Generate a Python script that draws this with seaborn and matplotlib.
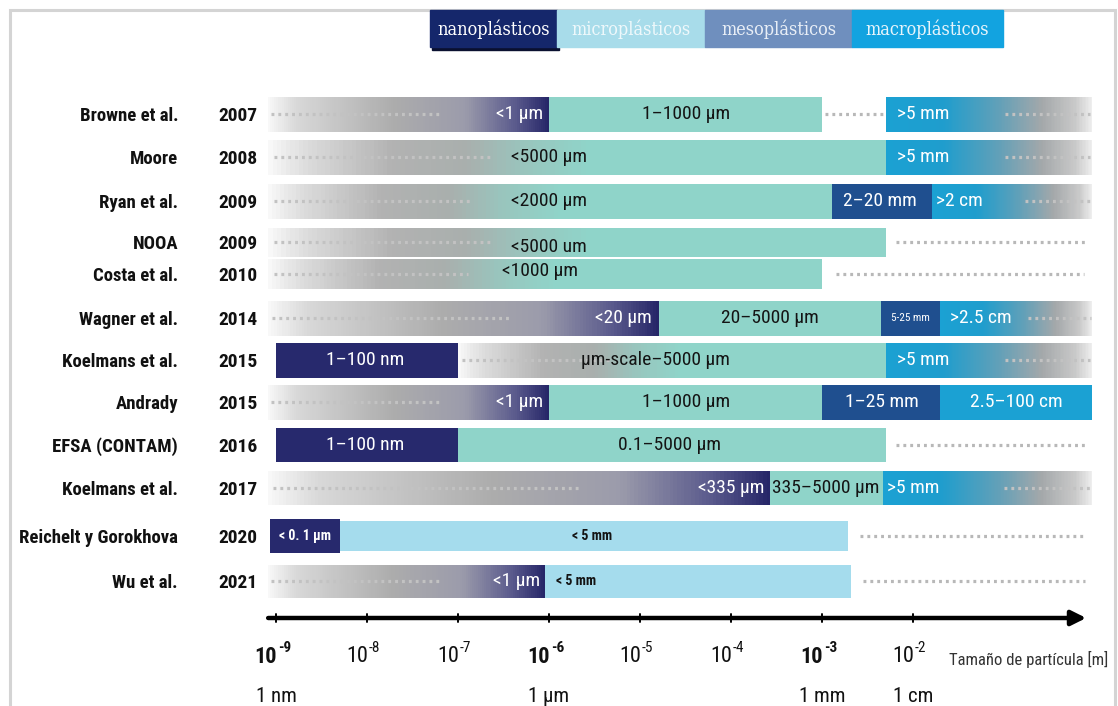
import numpy as np
import matplotlib
matplotlib.use("Agg")
import matplotlib.pyplot as plt
from matplotlib.colors import LinearSegmentedColormap
from matplotlib.patches import Rectangle
import seaborn as sns

# ------------------------------------------------------------------ data
authors = ["Browne et al.", "Moore", "Ryan et al.", "NOOA", "Costa et al.",
           "Wagner et al.", "Koelmans et al.", "Andrady", "EFSA (CONTAM)",
           "Koelmans et al.", "Reichelt y Gorokhova", "Wu et al."]
years = ["2007", "2008", "2009", "2009", "2010", "2014", "2015", "2015",
         "2016", "2017", "2020", "2021"]
legend_names = ["nanoplásticos", "microplásticos", "mesoplásticos", "macroplásticos"]
tick_exps = [-9, -8, -7, -6, -5, -4, -3, -2]
tick_bold = [-9, -6, -3]
unit_names = ["1 nm", "1 µm", "1 mm", "1 cm"]
unit_vals = [1e-9, 1e-6, 1e-3, 1e-2]
axis_title = "Tamaño de partícula [m]"

# size segments per study (metres)
seg_row = [0, 0, 0, 0,
           1, 1,
           2, 2, 2,
           3, 3,
           4, 4,
           5, 5, 5, 5,
           6, 6, 6,
           7, 7, 7, 7,
           8, 8, 8,
           9, 9, 9,
           10, 10, 10,
           11, 11, 11]
seg_start = [8.2e-10, 1e-6, 1e-3, 5e-3,
             8.2e-10, 5e-3,
             8.2e-10, 1.3e-3, 1.6e-2,
             8.2e-10, 5e-3,
             8.2e-10, 1e-3,
             8.2e-10, 1.6e-5, 4.5e-3, 2e-2,
             1e-9, 1e-7, 5e-3,
             8.2e-10, 1e-6, 1e-3, 2e-2,
             1e-9, 1e-7, 5e-3,
             8.2e-10, 2.7e-4, 4.7e-3,
             8.6e-10, 5e-9, 1.93e-3,
             8.2e-10, 9e-7, 2.1e-3]
seg_end = [1e-6, 1e-3, 5e-3, 0.93,
           5e-3, 0.93,
           1.3e-3, 1.6e-2, 0.93,
           5e-3, 0.93,
           1e-3, 0.93,
           1.6e-5, 4.5e-3, 2e-2, 0.93,
           1e-7, 5e-3, 0.93,
           1e-6, 1e-3, 2e-2, 0.93,
           1e-7, 5e-3, 0.93,
           2.7e-4, 4.7e-3, 0.93,
           5e-9, 1.93e-3, 0.93,
           9e-7, 2.1e-3, 0.93]
seg_kind = ["nf", "mi", "gap", "mf",
            "cf", "mf",
            "cf", "me", "mf",
            "cf", "gap",
            "cf", "gap",
            "nf", "mi", "me", "mf",
            "n", "cf", "mf",
            "nf", "mi", "me", "ma",
            "n", "mi", "gap",
            "nf", "mi", "mf",
            "n", "lb", "gap",
            "nf", "lb", "gap"]
seg_label = ["<1 µm", "1–1000 µm", "", ">5 mm",
             "<5000 µm", ">5 mm",
             "<2000 µm", "2–20 mm", ">2 cm",
             "<5000 um", "",
             "<1000 µm", "",
             "<20 µm", "20–5000 µm", "5-25 mm", ">2.5 cm",
             "1–100 nm", "µm-scale–5000 µm", ">5 mm",
             "<1 µm", "1–1000 µm", "1–25 mm", "2.5–100 cm",
             "1–100 nm", "0.1–5000 µm", "",
             "<335 µm", "335–5000 µm", ">5 mm",
             "< 0. 1 µm", "< 5 mm", "",
             "<1 µm", "< 5 mm", ""]

# ------------------------------------------------------------------ layout
W, H = 1118, 706
row_y = [114, 157, 201, 242, 274, 318, 360, 402, 445, 488, 536, 581]
row_h = [35, 35, 35, 29, 30, 35, 35, 35, 34, 34, 30, 33]
lbl_at = [8.6e-7, 3.2e-5, None, 6.7e-3,
          1.0e-6, 6.7e-3,
          1.0e-6, 4.3e-3, 1.8e-2,
          1.0e-6, None,
          8.0e-7, None,
          1.35e-5, 2.7e-4, 9.3e-3, 2.55e-2,
          9.5e-9, 1.46e-5, 6.7e-3,
          8.6e-7, 3.2e-5, 4.6e-3, 0.135,
          9.5e-9, 2.1e-5, None,
          2.3e-4, 1.1e-3, 5.2e-3,
          2.1e-9, 3.0e-6, None,
          8.0e-7, 1.2e-6, None]
lbl_ha = ["right", "center", "center", "left",
          "center", "left",
          "center", "center", "left",
          "center", "center",
          "center", "center",
          "right", "center", "center", "left",
          "center", "center", "left",
          "right", "center", "center", "center",
          "center", "center", "center",
          "right", "center", "left",
          "center", "center", "center",
          "right", "left", "center"]
lbl_dy = [0] * len(seg_row)
lbl_dy[9] = 5
lbl_dy[11] = -3

sns.set_theme(style="white")
SANS = ["Roboto Condensed", "PT Sans Narrow", "Liberation Sans", "DejaVu Sans"]
plt.rcParams["font.family"] = SANS
SERIF = ["DejaVu Serif"]

NAVY = "#27296d"
TEAL = "#8fd4c9"
MESO = "#1f4f8f"
MACRO = "#1ba1d3"
LBLUE = "#a5dced"
DOT = "#c2c2c2"

grad_nf = [(0.0, "#f8f8f8"), (0.1, "#d8d8d8"), (0.45, "#acacac"),
           (0.7, "#9b9bab"), (0.88, "#5b5b8d"), (1.0, "#262668")]
grad_cf = [(0.0, "#f8f8f8"), (0.06, "#dcdcdc"), (0.2, "#b2b2b2"),
           (0.32, "#a9afad"), (0.42, "#98c6be"), (0.52, TEAL), (1.0, TEAL)]
grad_mf = [(0.0, MACRO), (0.28, "#1f9dcd"), (0.55, "#62a0b8"),
           (0.76, "#a4a8aa"), (0.92, "#c9c9c9"), (1.0, "#eeeeee")]

fig = plt.figure(figsize=(W / 100, H / 100), dpi=100)
fig.patch.set_facecolor("white")

# bar axes: log size scale, y in row units of the picture
ax = fig.add_axes([0, 0, 1, 1])
ax.set_xscale("log")
ax.set_xlim(10 ** (-6 - 549 / 91), 10 ** (-6 + (W - 549) / 91))
ax.set_ylim(H, 0)
ax.axis("off")

# overlay axes for frame / legend / labels
lay = fig.add_axes([0, 0, 1, 1], zorder=3)
lay.set_xlim(0, W)
lay.set_ylim(H, 0)
lay.axis("off")
lay.patch.set_alpha(0)

# frame
lay.plot([10, 10, 1115, 1115], [H, 10, 10, H], color="#d4d4d4", lw=2.2,
         solid_joinstyle="miter")

# legend boxes
leg_x = [430, 557, 705, 852, 1003]
leg_col = ["#15276b", "#a8dcea", "#6f8fbe", "#12a3e0"]
leg_txt = ["#ffffff", "#eef8fb", "#e8eef6", "#e6f4fb"]
lay.add_patch(Rectangle((432, 12), 127, 38, color="#0a1030", zorder=1))
for i, name in enumerate(legend_names):
    lay.add_patch(Rectangle((leg_x[i], 10), leg_x[i + 1] - leg_x[i], 37,
                            color=leg_col[i], zorder=2))
    lay.text((leg_x[i] + leg_x[i + 1]) / 2, 29, name, ha="center", va="center",
             fontsize=13, color=leg_txt[i], family=SERIF, fontstretch="condensed",
             zorder=3)

def grad_bar(y, h, s, e, stops, n=140):
    cmap = LinearSegmentedColormap.from_list("g", stops)
    edges = np.logspace(np.log10(s), np.log10(e), n + 1)
    t = (np.arange(n) + 0.5) / n
    ax.barh(np.full(n, y), np.diff(edges) * 1.03, left=edges[:-1], height=h,
            color=cmap(t), linewidth=0, antialiased=False)

def dots(y, a, b, color=DOT):
    ax.plot([a, b], [y, y], ls=(0, (0.9, 1.25)), lw=2.3, color=color,
            dash_capstyle="butt", zorder=4)

def lfrac(s, e, f):
    return 10 ** (np.log10(s) + f * (np.log10(e) - np.log10(s)))

text_col = {"nf": "white", "n": "white", "me": "white", "mf": "white",
            "ma": "white", "mi": "#141414", "cf": "#141414", "lb": "#141414"}

for i in range(len(seg_row)):
    r = seg_row[i]
    y, h = row_y[r], row_h[r]
    s, e, kd = seg_start[i], seg_end[i], seg_kind[i]
    if kd == "nf":
        grad_bar(y, h, s, e, grad_nf)
        dots(y, lfrac(s, e, 0.01), lfrac(s, e, 0.62))
    elif kd == "cf":
        grad_bar(y, h, s, e, grad_cf)
        dots(y, lfrac(s, e, 0.01), lfrac(s, e, 0.36))
    elif kd == "mf":
        grad_bar(y, h, s, e, grad_mf)
        dots(y, lfrac(s, e, 0.58), lfrac(s, e, 0.99))
    elif kd == "gap":
        dots(y, lfrac(s, e, 0.05), lfrac(s, e, 0.97), color="#b8b8b8")
    else:
        col = {"n": NAVY, "mi": TEAL, "me": MESO, "ma": MACRO, "lb": LBLUE}[kd]
        hh = h + 4 if (kd == "n" and r == 10) else h
        ax.barh(y, e - s, left=s, height=hh, color=col, linewidth=0, zorder=3)
    if seg_label[i]:
        size = 14
        weight = "normal"
        if kd == "lb" or (r == 10):
            size = 10
            weight = "bold"
        if seg_label[i] == "5-25 mm":
            size = 8
        ax.text(lbl_at[i], y + lbl_dy[i], seg_label[i], ha=lbl_ha[i], va="center",
                fontsize=size, color=text_col[kd], fontweight=weight, zorder=6)

# row labels
for r in range(len(authors)):
    lay.text(178, row_y[r] + 2, authors[r], ha="right", va="center",
             fontsize=13.5, fontweight="bold", color="#111111")
    lay.text(238, row_y[r] + 2, years[r], ha="center", va="center",
             fontsize=14, fontweight="bold", color="#111111")

# size axis with arrow
ax.annotate("", xy=(0.8, 618), xytext=(8.2e-10, 618),
            arrowprops=dict(arrowstyle="-|>", lw=3.2, color="black",
                            mutation_scale=22, shrinkA=0, shrinkB=0), zorder=5)
for ex in tick_exps:
    ax.plot([10.0 ** ex] * 2, [614, 622], color="black", lw=1.4, zorder=5)
    bold = "bold" if ex in tick_bold else "normal"
    ax.text(10.0 ** ex * 1.02, 657, "10", ha="right", va="center", fontsize=16,
            fontweight=bold, color="#111111")
    ax.text(10.0 ** ex * 1.05, 648, str(ex), ha="left", va="center",
            fontsize=11, fontweight=bold, color="#111111")
lay.text(949, 659, axis_title, ha="left", va="center", fontsize=12,
         color="#333333")
for nm, v in zip(unit_names, unit_vals):
    ax.text(v, 687, nm, ha="center", va="top", fontsize=15, color="#111111")

sns.despine(fig=fig, left=True, bottom=True)
fig.savefig("out.png", dpi=100, facecolor="white")
